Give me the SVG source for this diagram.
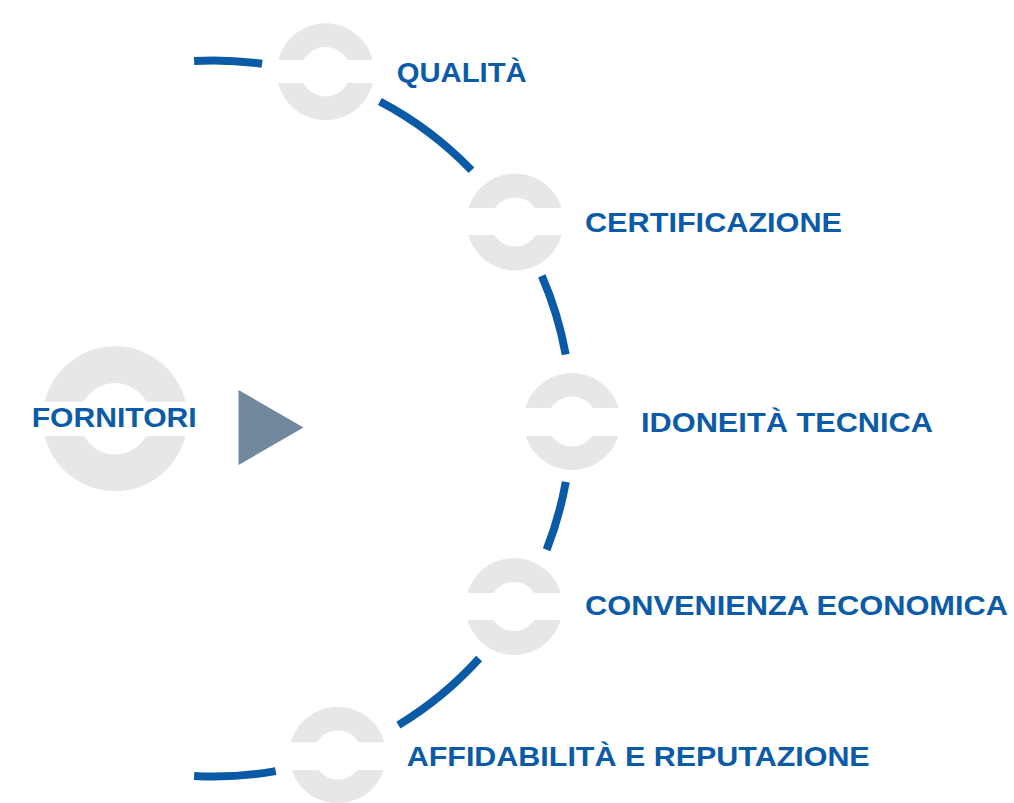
<svg xmlns="http://www.w3.org/2000/svg" width="1014" height="803" viewBox="0 0 1014 803">
<style>
.ring{fill:#e6e7e8}
.hole{fill:#ffffff}
.arc{fill:none;stroke:#0a5aa8;stroke-width:8;stroke-linecap:butt}
.lbl{font-family:"Liberation Sans",Arial,sans-serif;font-weight:bold;font-size:28px;fill:#0b5ba8}
</style>
<rect width="1014" height="803" fill="#ffffff"/>
<g id="connectors">
<path class="arc" d="M194.1 61 A358 358 0 0 1 262.1 63.8"/>
<path class="arc" d="M379.9 101.5 A358 358 0 0 1 471.5 170.3"/>
<path class="arc" d="M541.8 275.8 A358 358 0 0 1 565.7 354.5"/>
<path class="arc" d="M565.8 481.9 A358 358 0 0 1 546.6 549.7"/>
<path class="arc" d="M479.1 658.5 A358 358 0 0 1 398.4 725.1"/>
<path class="arc" d="M275.7 771.1 A358 358 0 0 1 194.1 776"/>
</g>
<g id="fornitori">
<circle class="ring" cx="115" cy="418.7" r="72.5"/>
<circle class="hole" cx="115" cy="418.7" r="35.7"/>
<rect class="hole" x="40" y="401.7" width="150" height="34.3"/>
<text class="lbl" x="31.7" y="426.7" font-size="27" textLength="165" lengthAdjust="spacingAndGlyphs">FORNITORI</text>
</g>
<g id="arrow">
<polygon points="238.5,390 303.5,427.5 238.5,465" fill="#72889c"/>
</g>
<g id="qualita">
<circle class="ring" cx="325.5" cy="71.7" r="48.5"/>
<circle class="hole" cx="325.5" cy="71.7" r="24.8"/>
<rect class="hole" x="275" y="60" width="102" height="23"/>
<text class="lbl" x="396.7" y="82" textLength="130" lengthAdjust="spacingAndGlyphs">QUALITÀ</text>
</g>
<g id="certificazione">
<circle class="ring" cx="515" cy="222" r="48.5"/>
<circle class="hole" cx="515" cy="222" r="24.5"/>
<rect class="hole" x="464" y="208" width="102" height="27"/>
<text class="lbl" x="585" y="232" textLength="257" lengthAdjust="spacingAndGlyphs">CERTIFICAZIONE</text>
</g>
<g id="idoneita">
<circle class="ring" cx="572" cy="421.5" r="48.5"/>
<circle class="hole" cx="572" cy="421.5" r="25"/>
<rect class="hole" x="521" y="408" width="102" height="28"/>
<text class="lbl" x="641" y="432" textLength="292" lengthAdjust="spacingAndGlyphs">IDONEITÀ TECNICA</text>
</g>
<g id="convenienza">
<circle class="ring" cx="514" cy="606.5" r="48.5"/>
<circle class="hole" cx="514" cy="606.5" r="24.5"/>
<rect class="hole" x="463" y="593" width="102" height="27"/>
<text class="lbl" x="585" y="615" textLength="423" lengthAdjust="spacingAndGlyphs">CONVENIENZA ECONOMICA</text>
</g>
<g id="affidabilita">
<circle class="ring" cx="337.7" cy="755" r="48.3"/>
<circle class="hole" cx="337.7" cy="755" r="24.5"/>
<rect class="hole" x="287" y="742.3" width="102" height="27.7"/>
<text class="lbl" x="406.7" y="766" textLength="463" lengthAdjust="spacingAndGlyphs">AFFIDABILITÀ E REPUTAZIONE</text>
</g>
</svg>
